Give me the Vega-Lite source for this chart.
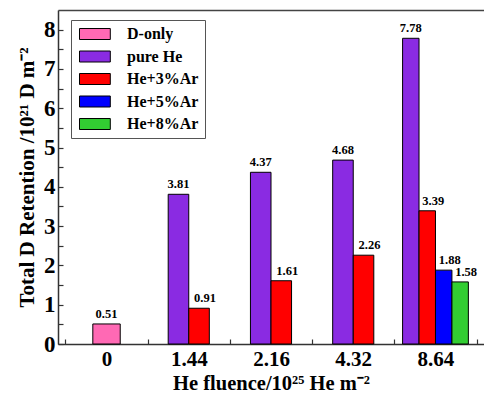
{
  "$schema": "https://vega.github.io/schema/vega-lite/v6.json",
  "width": 426,
  "height": 334,
  "autosize": {"type": "none"},
  "padding": {"left": 58, "top": 10, "right": 0, "bottom": 50},
  "background": "white",
  "config": {
    "view": {"stroke": null},
    "font": "Liberation Serif",
    "axis": {
      "labelFont": "Liberation Serif",
      "labelFontWeight": "bold",
      "labelFontSize": 21,
      "labelColor": "black",
      "titleFont": "Liberation Serif",
      "titleFontWeight": "bold",
      "titleFontSize": 20,
      "titleColor": "black",
      "domainColor": "#333",
      "domainWidth": 1.5,
      "tickColor": "#333",
      "tickWidth": 1.2
    }
  },
  "data": {
    "values": [
      {"fluence": "0", "series": "D-only", "value": 0.51},
      {"fluence": "1.44", "series": "pure He", "value": 3.81},
      {"fluence": "1.44", "series": "He+3%Ar", "value": 0.91},
      {"fluence": "2.16", "series": "pure He", "value": 4.37},
      {"fluence": "2.16", "series": "He+3%Ar", "value": 1.61},
      {"fluence": "4.32", "series": "pure He", "value": 4.68},
      {"fluence": "4.32", "series": "He+3%Ar", "value": 2.26},
      {"fluence": "8.64", "series": "pure He", "value": 7.78},
      {"fluence": "8.64", "series": "He+3%Ar", "value": 3.39},
      {"fluence": "8.64", "series": "He+5%Ar", "value": 1.88},
      {"fluence": "8.64", "series": "He+8%Ar", "value": 1.58}
    ]
  },
  "encoding": {
    "x": {
      "field": "fluence",
      "type": "nominal",
      "scale": {"domain": ["0", "1.44", "2.16", "4.32", "8.64"], "paddingInner": 0, "paddingOuter": 0.09},
      "axis": {"title": "He fluence/10²⁵ He m⁻²", "titleFontSize": 20.5, "labelAngle": 0, "tickBand": "extent", "tickSize": -5, "labelPadding": 9, "titlePadding": 4, "grid": false}
    },
    "y": {
      "field": "value",
      "type": "quantitative",
      "scale": {"domain": [0, 8.5], "nice": false},
      "axis": {
        "title": "Total D Retention /10²¹ D m⁻²",
        "titleFontSize": 21,
        "values": [0, 0.5, 1, 1.5, 2, 2.5, 3, 3.5, 4, 4.5, 5, 5.5, 6, 6.5, 7, 7.5, 8, 8.5],
        "labelExpr": "datum.value % 1 == 0 ? format(datum.value, 'd') : ''",
        "labelFontSize": 23,
        "tickSize": -5,
        "labelPadding": 8,
        "titlePadding": 6,
        "grid": true,
        "gridColor": "#444",
        "gridWidth": 1.5,
        "gridOpacity": {"condition": {"test": "datum.value == 8.5", "value": 1}, "value": 0},
        "tickOpacity": {"condition": {"test": "datum.value == 8.5", "value": 0}, "value": 1}
      }
    }
  },
  "resolve": {"scale": {"xOffset": "independent"}},
  "layer": [
    {
      "transform": [{"filter": "datum.fluence == '0'"}],
      "encoding": {
        "xOffset": {"field": "series", "type": "nominal", "scale": {"domain": ["D-only"], "paddingInner": 0, "paddingOuter": 2}}
      },
      "layer": [
        {
          "mark": {"type": "bar", "stroke": "black", "strokeWidth": 1},
          "encoding": {
            "color": {
              "field": "series", "type": "nominal",
              "scale": {"domain": ["D-only", "pure He", "He+3%Ar", "He+5%Ar", "He+8%Ar"], "range": ["#FF69B4", "#8A2BE2", "#FF0000", "#0000FF", "#32CD32"]},
              "legend": {
                "title": null, "orient": "none", "legendX": 13, "legendY": 10,
                "strokeColor": "#555", "fillColor": "white", "padding": 6,
                "symbolType": "M-1,-1H4.6V1H-1Z", "symbolSize": 121,
                "symbolStrokeColor": "black", "symbolStrokeWidth": 1,
                "labelFont": "Liberation Serif", "labelFontWeight": "bold", "labelFontSize": 16, "labelColor": "black",
                "labelOffset": 34, "rowPadding": 6.5
              }
            }
          }
        },
        {
          "mark": {"type": "text", "font": "Liberation Serif", "fontWeight": "bold", "fontSize": 12.5, "baseline": "alphabetic", "dy": -6, "color": "black"},
          "encoding": {"text": {"field": "value", "type": "quantitative", "format": ".2f"}}
        }
      ]
    },
    {
      "transform": [{"filter": "datum.fluence == '1.44' || datum.fluence == '2.16' || datum.fluence == '4.32'"}],
      "encoding": {
        "xOffset": {"field": "series", "type": "nominal", "scale": {"domain": ["pure He", "He+3%Ar"], "paddingInner": 0, "paddingOuter": 1.5}}
      },
      "layer": [
        {
          "mark": {"type": "bar", "stroke": "black", "strokeWidth": 1},
          "encoding": {
            "color": {
              "field": "series", "type": "nominal",
              "scale": {"domain": ["D-only", "pure He", "He+3%Ar", "He+5%Ar", "He+8%Ar"], "range": ["#FF69B4", "#8A2BE2", "#FF0000", "#0000FF", "#32CD32"]},
              "legend": {
                "title": null, "orient": "none", "legendX": 13, "legendY": 10,
                "strokeColor": "#555", "fillColor": "white", "padding": 6,
                "symbolType": "M-1,-1H4.6V1H-1Z", "symbolSize": 121,
                "symbolStrokeColor": "black", "symbolStrokeWidth": 1,
                "labelFont": "Liberation Serif", "labelFontWeight": "bold", "labelFontSize": 16, "labelColor": "black",
                "labelOffset": 34, "rowPadding": 6.5
              }
            }
          }
        },
        {
          "transform": [{"filter": "datum.series == 'pure He'"}],
          "mark": {"type": "text", "font": "Liberation Serif", "fontWeight": "bold", "fontSize": 12.5, "baseline": "alphabetic", "dy": -6, "color": "black"},
          "encoding": {"text": {"field": "value", "type": "quantitative", "format": ".2f"}}
        },
        {
          "transform": [{"filter": "datum.series != 'pure He'"}],
          "mark": {"type": "text", "font": "Liberation Serif", "fontWeight": "bold", "fontSize": 12.5, "baseline": "alphabetic", "dy": -6, "dx": 6, "color": "black"},
          "encoding": {"text": {"field": "value", "type": "quantitative", "format": ".2f"}}
        }
      ]
    },
    {
      "transform": [{"filter": "datum.fluence == '8.64'"}],
      "encoding": {
        "xOffset": {"field": "series", "type": "nominal", "scale": {"domain": ["pure He", "He+3%Ar", "He+5%Ar", "He+8%Ar"], "paddingInner": 0, "paddingOuter": 0.5}}
      },
      "layer": [
        {
          "mark": {"type": "bar", "stroke": "black", "strokeWidth": 1},
          "encoding": {
            "color": {
              "field": "series", "type": "nominal",
              "scale": {"domain": ["D-only", "pure He", "He+3%Ar", "He+5%Ar", "He+8%Ar"], "range": ["#FF69B4", "#8A2BE2", "#FF0000", "#0000FF", "#32CD32"]},
              "legend": {
                "title": null, "orient": "none", "legendX": 13, "legendY": 10,
                "strokeColor": "#555", "fillColor": "white", "padding": 6,
                "symbolType": "M-1,-1H4.6V1H-1Z", "symbolSize": 121,
                "symbolStrokeColor": "black", "symbolStrokeWidth": 1,
                "labelFont": "Liberation Serif", "labelFontWeight": "bold", "labelFontSize": 16, "labelColor": "black",
                "labelOffset": 34, "rowPadding": 6.5
              }
            }
          }
        },
        {
          "transform": [{"filter": "datum.series == 'pure He'"}],
          "mark": {"type": "text", "font": "Liberation Serif", "fontWeight": "bold", "fontSize": 12.5, "baseline": "alphabetic", "dy": -6, "color": "black"},
          "encoding": {"text": {"field": "value", "type": "quantitative", "format": ".2f"}}
        },
        {
          "transform": [{"filter": "datum.series != 'pure He'"}],
          "mark": {"type": "text", "font": "Liberation Serif", "fontWeight": "bold", "fontSize": 12.5, "baseline": "alphabetic", "dy": -6, "dx": 6, "color": "black"},
          "encoding": {"text": {"field": "value", "type": "quantitative", "format": ".2f"}}
        }
      ]
    }
  ]
}
